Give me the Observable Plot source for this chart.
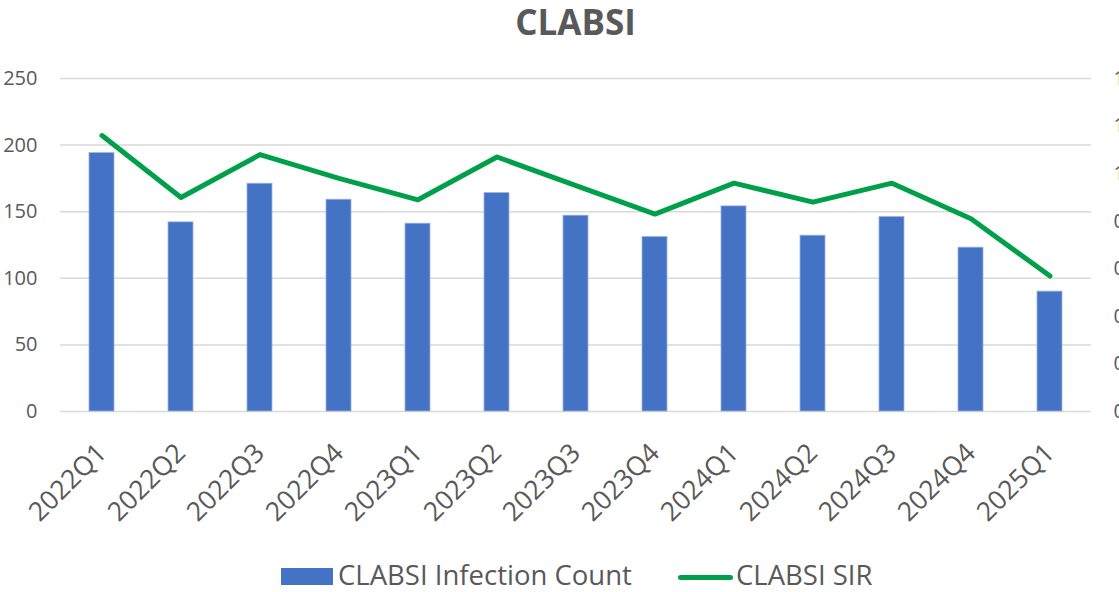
<!DOCTYPE html>
<html>
<head>
<meta charset="utf-8">
<script src="https://cdn.jsdelivr.net/npm/d3@7"></script>
<script src="https://cdn.jsdelivr.net/npm/@observablehq/plot@0.6"></script>
<style>
  body { margin: 0; background: #fff; font-family: "Open Sans", sans-serif; }
  #wrap { position: relative; width: 1119px; height: 592px; overflow: hidden; }
  #title { position: absolute; top: 4px; left: 60px; width: 1031px; text-align: center;
           font-weight: 700; font-size: 35px; line-height: 35px; color: #595959; }
  #chart { position: absolute; top: 0; left: 0; }
  .lg { position: absolute; }
  .lgtext { font-size: 27.5px; line-height: 27.5px; color: #595959; white-space: nowrap; top: 561px; }
</style>
</head>
<body>
<div id="wrap">
  <div id="chart"></div>
  <div id="title">CLABSI</div>
  <div class="lg" style="left:281px;top:568px;width:52px;height:17px;background:#4472C4;"></div>
  <div class="lg lgtext" style="left:338px;">CLABSI Infection Count</div>
  <div class="lg" style="left:678px;top:574.5px;width:55px;height:5px;border-radius:3px;background:#00A04B;"></div>
  <div class="lg lgtext" style="left:736px;">CLABSI SIR</div>
</div>
<script>
const quarters = ["2022Q1","2022Q2","2022Q3","2022Q4","2023Q1","2023Q2","2023Q3","2023Q4","2024Q1","2024Q2","2024Q3","2024Q4","2025Q1"];
const infectionCount = [194, 142, 171, 159, 141, 164, 147, 131, 154, 132, 146, 123, 90];
const sirValues = [1.16, 0.90, 1.08, 0.98, 0.89, 1.07, 0.95, 0.83, 0.96, 0.88, 0.96, 0.81, 0.57];
const countTicks = [0, 50, 100, 150, 200, 250];
const sirTicks = [0, 0.2, 0.4, 0.6, 0.8, 1.0, 1.2, 1.4];

const countMax = 250, sirMax = 1.4;
const k = countMax / sirMax;
const rows = quarters.map((q, i) => ({quarter: q, count: infectionCount[i], sir: sirValues[i] * k}));

const chart = Plot.plot({
  width: 1119,
  height: 545,
  marginTop: 78,
  marginBottom: 134,
  marginLeft: 60,
  marginRight: 28,
  style: {fontFamily: "Open Sans", color: "#595959", background: "transparent", overflow: "hidden"},
  x: {domain: quarters, paddingInner: 0.685, paddingOuter: 0.3425, label: null},
  y: {domain: [0, countMax], label: null},
  marks: [
    Plot.ruleY(countTicks, {stroke: "#d9d9d9", strokeWidth: 1.5}),
    Plot.barY(rows, {x: "quarter", y: "count", fill: "#4472C4", stroke: "#9db3df", strokeWidth: 0.8}),
    Plot.lineY(rows, {x: "quarter", y: "sir", stroke: "#00A04B", strokeWidth: 5, strokeLinecap: "round", strokeLinejoin: "round"}),
    Plot.axisY(countTicks, {anchor: "left", tickSize: 0, tickPadding: 23, fontSize: 20, label: null}),
    Plot.axisY(sirTicks.map(v => v * k), {anchor: "right", tickSize: 0, tickPadding: 22, fontSize: 20, label: null,
      tickFormat: d => (d / k).toFixed(1)}),
    Plot.axisX({tickSize: 0, tickRotate: -45, tickPadding: 37, fontSize: 26.5, label: null})
  ]
});
document.getElementById("chart").appendChild(chart);
</script>
</body>
</html>
